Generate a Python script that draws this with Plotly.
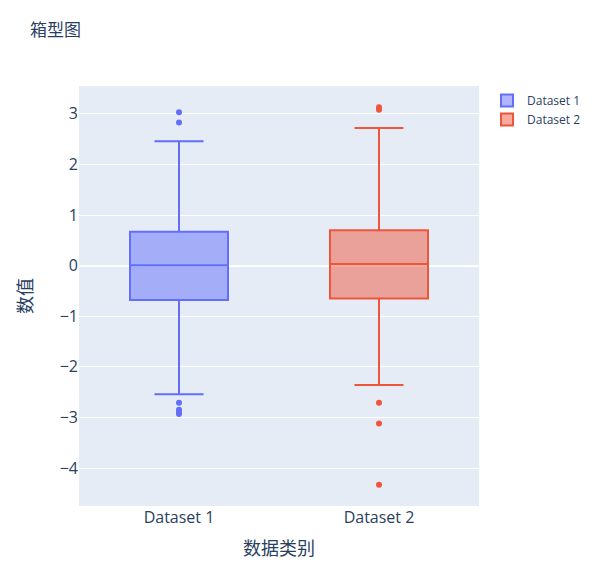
import plotly.graph_objects as go

# Box statistics
CATEGORIES = ["Dataset 1", "Dataset 2"]
NAMES = ["Dataset 1", "Dataset 2"]
COLORS = ["#636efa", "#EF553B"]

Q1 = [-0.68, -0.65]
MEDIAN = [0.01, 0.03]
Q3 = [0.67, 0.70]
LOWER_FENCE = [-2.54, -2.36]
UPPER_FENCE = [2.46, 2.72]

OUTLIERS_1 = [3.03, 2.83, -2.71, -2.85, -2.89, -2.93]
OUTLIERS_2 = [3.13, 3.08, -2.71, -3.12, -4.33]
OUTLIERS = [OUTLIERS_1, OUTLIERS_2]

W, H = 594, 564

fig = go.Figure()

for i in range(2):
    fig.add_trace(go.Box(
        x=[CATEGORIES[i]],
        y=[OUTLIERS[i]],
        q1=[Q1[i]], median=[MEDIAN[i]], q3=[Q3[i]],
        lowerfence=[LOWER_FENCE[i]], upperfence=[UPPER_FENCE[i]],
        name=NAMES[i],
        boxpoints="outliers",
        marker=dict(color=COLORS[i]),
        line=dict(color=COLORS[i]),
    ))

fig.update_layout(
    title=dict(text="箱型图", font=dict(size=17), x=22 / W, xanchor="left",
               y=1 - 22 / H, yanchor="middle"),
    width=W, height=H,
    margin=dict(l=71, r=123, t=78, b=66),
    font=dict(family='"Open Sans", "Noto Sans CJK SC", sans-serif'),
    template="plotly",
)
fig.update_xaxes(title_text="数据类别", title_font=dict(size=18), tickfont=dict(size=16))
fig.update_yaxes(title_text="数值", title_font=dict(size=18), tickfont=dict(size=16),
                 title_standoff=22, range=[-4.75, 3.55])

fig.write_html("out.html")
